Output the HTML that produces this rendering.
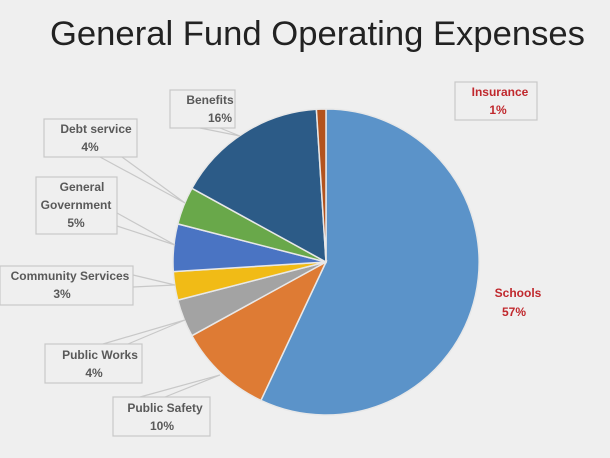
<!DOCTYPE html>
<html><head><meta charset="utf-8"><style>
html,body{margin:0;padding:0;background:#efefef;}
svg{display:block}
text{font-family:"Liberation Sans",sans-serif;}
.l{font-size:12px;font-weight:bold;fill:#595959;text-anchor:middle}
.b{fill:#efefef;stroke:#c8c8c8;stroke-width:1.2}
.p{fill:none;stroke:#c8c8c8;stroke-width:1.2}
</style></head><body>
<svg width="610" height="458" viewBox="0 0 610 458">
<rect width="610" height="458" fill="#efefef"/>
<text x="50" y="45" font-size="34" fill="#222" textLength="535" lengthAdjust="spacingAndGlyphs">General Fund Operating Expenses</text>
<g stroke="#e8e8e8" stroke-width="1.5">
<path d="M326,262 L326,109 A153,153 0 1 1 260.9,400.4 Z" fill="#5b93c9"/>
<path d="M326,262 L260.9,400.4 A153,153 0 0 1 191.9,335.7 Z" fill="#de7b34"/>
<path d="M326,262 L191.9,335.7 A153,153 0 0 1 177.8,300.1 Z" fill="#a3a3a3"/>
<path d="M326,262 L177.8,300.1 A153,153 0 0 1 173.3,271.6 Z" fill="#f1bb16"/>
<path d="M326,262 L173.3,271.6 A153,153 0 0 1 177.8,223.9 Z" fill="#4a74c3"/>
<path d="M326,262 L177.8,223.9 A153,153 0 0 1 191.9,188.3 Z" fill="#69a84a"/>
<path d="M326,262 L191.9,188.3 A153,153 0 0 1 316.4,109.3 Z" fill="#2c5b87"/>
<path d="M326,262 L316.4,109.3 A153,153 0 0 1 326,109 Z" fill="#b3531e"/>
</g>
<!-- leaders -->
<polyline class="p" points="100,157 185,203 122,157"/>
<polyline class="p" points="117,213 175,245 117,226"/>
<polyline class="p" points="133,275 175,285 133,287"/>
<polyline class="p" points="103,344 185,320 128,344"/>
<polyline class="p" points="140,397 220,375 165,397"/>
<polyline class="p" points="200,128 240,136 220,128"/>
<!-- boxes -->
<rect class="b" x="170" y="90" width="65" height="38"/>
<text class="l" x="210" y="104">Benefits</text><text class="l" x="220" y="122">16%</text>
<rect class="b" x="44" y="119" width="93" height="38"/>
<text class="l" x="96" y="133">Debt service</text><text class="l" x="90" y="151">4%</text>
<rect class="b" x="36" y="177" width="81" height="57"/>
<text class="l" x="82" y="191">General</text><text class="l" x="76" y="209">Government</text><text class="l" x="76" y="227">5%</text>
<rect class="b" x="0" y="266" width="133" height="39"/>
<text class="l" x="70" y="280">Community Services</text><text class="l" x="62" y="298">3%</text>
<rect class="b" x="45" y="344" width="97" height="39"/>
<text class="l" x="100" y="359">Public Works</text><text class="l" x="94" y="377">4%</text>
<rect class="b" x="113" y="397" width="97" height="39"/>
<text class="l" x="165" y="412">Public Safety</text><text class="l" x="162" y="430">10%</text>
<rect class="b" x="455" y="82" width="82" height="38"/>
<text class="l" x="500" y="96" style="fill:#c0282d">Insurance</text><text class="l" x="498" y="114" style="fill:#c0282d">1%</text>
<text class="l" x="518" y="297" style="fill:#c0282d">Schools</text><text class="l" x="514" y="316" style="fill:#c0282d">57%</text>
</svg>
</body></html>
